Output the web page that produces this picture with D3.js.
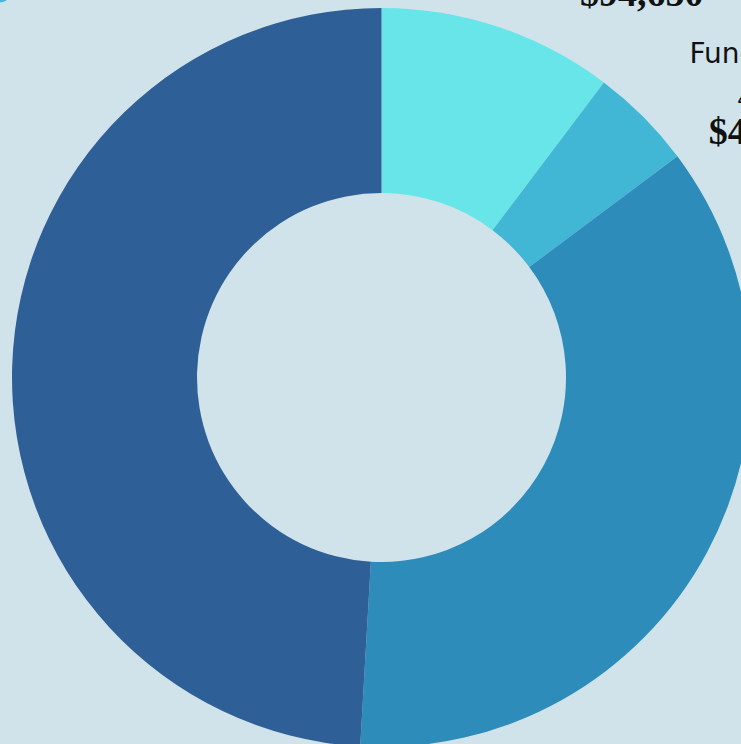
<!DOCTYPE html>
<html>
<head>
<meta charset="utf-8">
<script src="https://cdn.jsdelivr.net/npm/d3@7/dist/d3.min.js"></script>
<style>
  html, body { margin: 0; padding: 0; background: #d0e3ea; overflow: hidden; }
  svg { display: block; }
  .lbl-name { font-family: 'DejaVu Sans', sans-serif; font-size: 28px; fill: #111; }
  .lbl-pct { font-family: 'DejaVu Sans', sans-serif; font-size: 21px; fill: #111; }
  .lbl-val { font-family: 'Liberation Serif', 'Times New Roman', serif; font-weight: 700; font-size: 38px; fill: #111; }
</style>
</head>
<body>
<svg id="chart" width="741" height="744"></svg>
<script>
// ---- data ----
const categories = ["Program Services", "Fundraising", "Management & General", "Grants & Awards"];
const values = [94650, 41450, 332800, 452000];
const colors = ["#68e5e8", "#42b7d5", "#2e8cbb", "#2e5f96"];
const labelled = [true, true, false, false];

// ---- layout ----
const W = 741, H = 744;
const cx = 381.5, cy = 377.5;
const outerR = 369.5, innerR = 184.5;
const labelR = 454;
// labels are spread along an outer circle: angle = base + spread * mid-angle
const labelAngleBase = 18.3 * Math.PI / 180, labelSpread = 0.902;

const svg = d3.select("#chart");
svg.append("rect").attr("width", W).attr("height", H).attr("fill", "#d0e3ea");

// partial legend marker peeking in at the top-left corner
svg.append("circle").attr("cx", 0).attr("cy", -9).attr("r", 11.4).attr("fill", colors[1]);

const total = d3.sum(values);
const data = categories.map((c, i) => ({ name: c, value: values[i], color: colors[i], labelled: labelled[i] }));

const pie = d3.pie().value(d => d.value).sort(null);
const arcs = pie(data);
const arc = d3.arc().innerRadius(innerR).outerRadius(outerR);

const g = svg.append("g").attr("transform", `translate(${cx},${cy})`);

g.selectAll("path.slice")
  .data(arcs)
  .enter().append("path")
  .attr("class", "slice")
  .attr("d", arc)
  .attr("fill", d => d.data.color);

const fmtMoney = d3.format("$,.0f");
const fmtPct = d3.format(".2%");

const labels = g.selectAll("g.label")
  .data(arcs.filter(d => d.data.labelled))
  .enter().append("g")
  .attr("class", "label")
  .attr("transform", d => {
    const mid = (d.startAngle + d.endAngle) / 2;
    const a = labelAngleBase + labelSpread * mid;
    const x = labelR * Math.sin(a), y = -labelR * Math.cos(a);
    return `translate(${x},${y})`;
  });

labels.append("text")
  .attr("class", "lbl-name")
  .attr("y", -81)
  .attr("text-anchor", "middle")
  .text(d => d.data.name);

labels.append("text")
  .attr("class", "lbl-pct")
  .attr("y", -37)
  .attr("text-anchor", "middle")
  .text(d => fmtPct(d.data.value / total));

labels.append("text")
  .attr("class", "lbl-val")
  .attr("y", 0)
  .attr("text-anchor", "middle")
  .text(d => fmtMoney(d.data.value));
</script>
</body>
</html>
